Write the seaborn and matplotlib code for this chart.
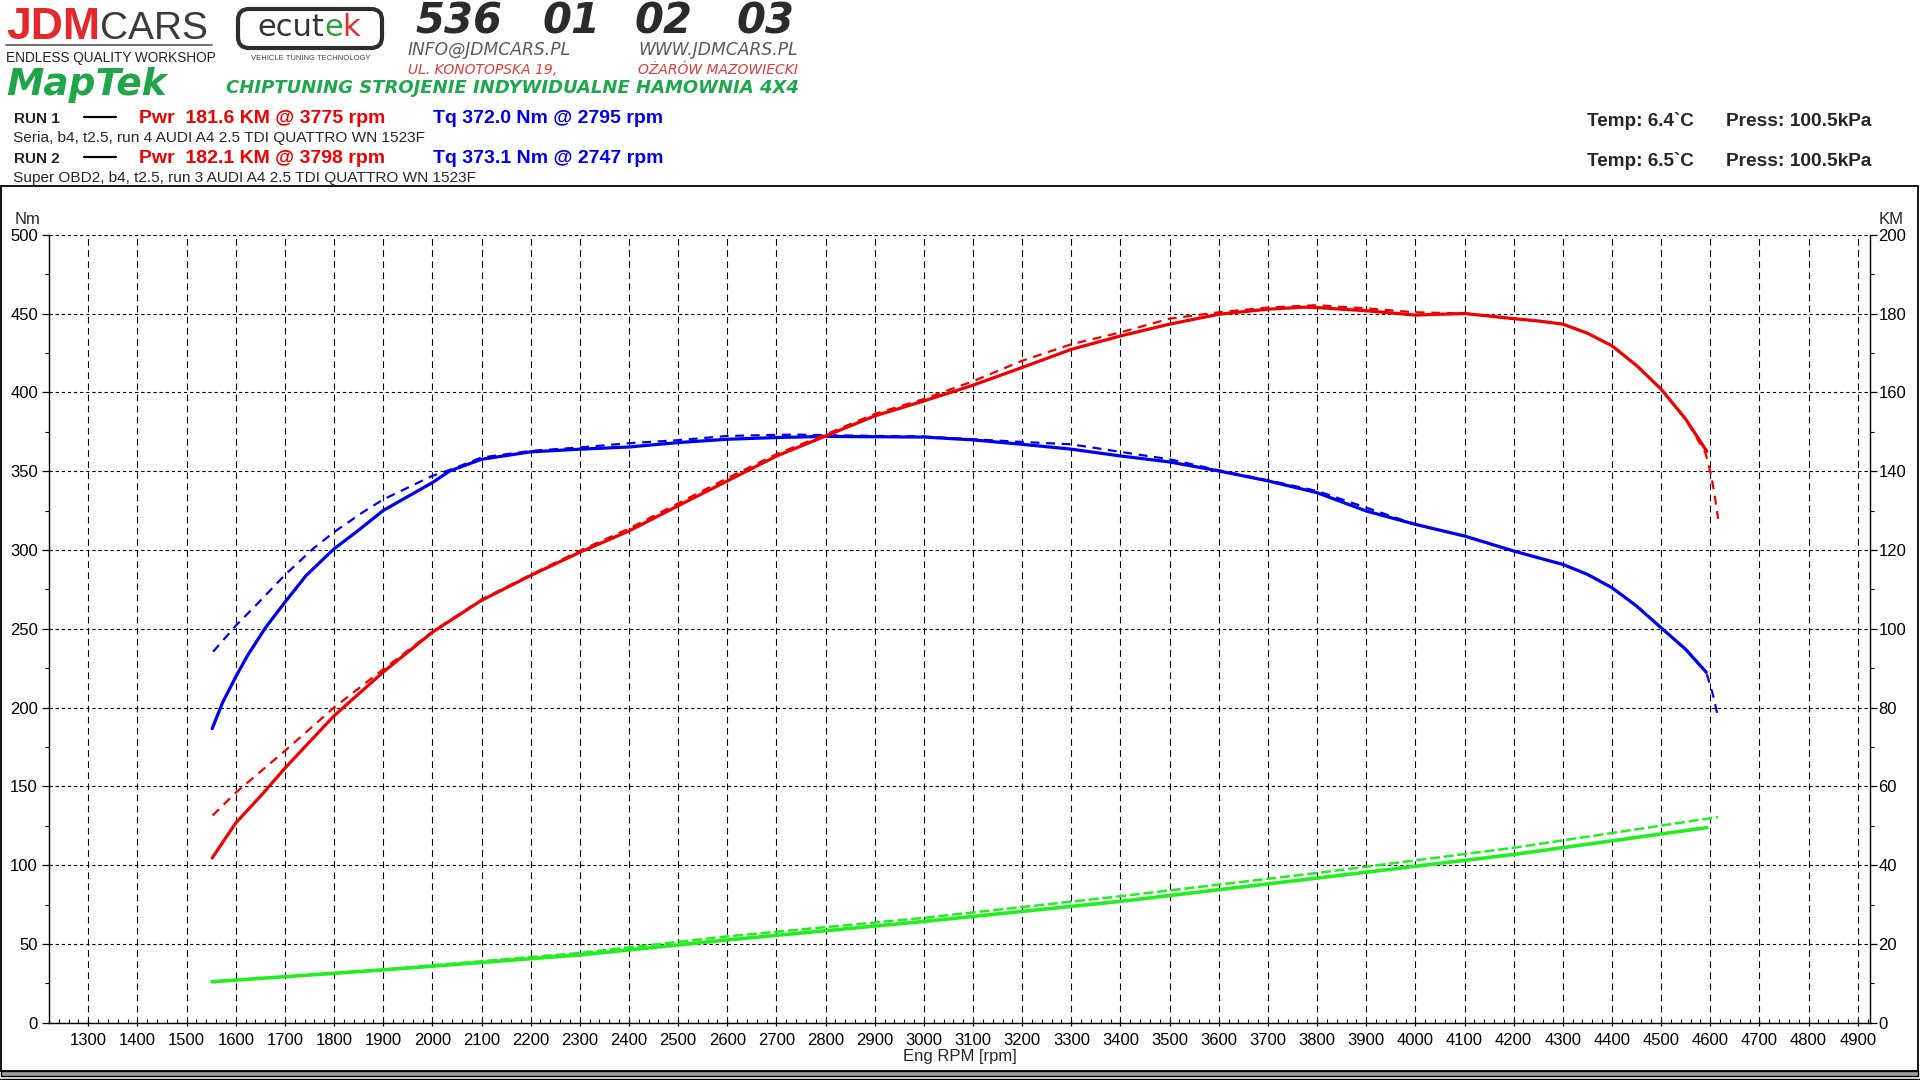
import matplotlib
matplotlib.use("Agg")
import matplotlib.pyplot as plt
from matplotlib.lines import Line2D
from matplotlib.patches import Rectangle, FancyBboxPatch
from matplotlib.ticker import MultipleLocator
from matplotlib.transforms import Affine2D
import seaborn as sns

# ---- dyno data ----
# torque [Nm], run 1 (solid) and run 2 (dashed)
tq1_rpm = [1552, 1573, 1600, 1624, 1661, 1700, 1743, 1800, 1845, 1900, 2000, 2035, 2100, 2200,
           2300, 2400, 2500, 2600, 2700, 2800, 2900, 3000, 3100, 3200, 3300, 3400, 3500, 3600,
           3700, 3800, 3900, 4000, 4100, 4200, 4250, 4300, 4350, 4400, 4450, 4500, 4550, 4592]
tq1_nm = [186.6, 203.0, 219.5, 233.0, 250.9, 266.8, 283.7, 300.7, 311.3, 325.0, 342.7, 350.0, 357.5, 362.2,
          363.9, 365.3, 368.1, 370.2, 371.3, 372.0, 371.8, 371.6, 369.8, 367.0, 363.9, 359.6, 355.8, 350.1,
          343.8, 336.3, 324.7, 316.2, 308.8, 299.3, 295.0, 290.8, 284.5, 276.0, 264.4, 250.6, 236.9, 222.3]

tq2_rpm = [1554, 1600, 1647, 1700, 1757, 1800, 1859, 1900, 2000, 2035, 2100, 2200, 2300, 2400, 2500,
           2600, 2700, 2747, 2800, 2900, 3000, 3100, 3200, 3300, 3400, 3500, 3600, 3700, 3800, 3900,
           4000, 4100, 4200, 4250, 4300, 4350, 4400, 4450, 4500, 4550, 4592, 4606, 4616]
tq2_nm = [235.4, 251.9, 266.8, 284.1, 300.7, 311.3, 324.0, 332.0, 347.0, 350.7, 358.6, 362.8, 365.0, 367.7, 369.6,
          372.3, 373.0, 373.1, 372.8, 372.3, 371.9, 370.2, 368.5, 367.0, 362.2, 357.5, 350.5, 344.2, 337.4, 326.8,
          316.2, 308.8, 299.3, 295.0, 290.8, 284.5, 276.0, 264.4, 250.6, 236.9, 222.3, 207.4, 193.6]

# power [KM]
pw1_rpm = [1552, 1600, 1654, 1700, 1800, 1900, 2000, 2100, 2200, 2300, 2400, 2500, 2600, 2700, 2800,
           2900, 3000, 3100, 3200, 3300, 3400, 3500, 3600, 3700, 3775, 3800, 3900, 4000, 4100, 4200,
           4250, 4300, 4350, 4400, 4450, 4500, 4550, 4593]
pw1_km = [41.8, 50.7, 58.0, 64.6, 77.9, 89.0, 99.1, 107.2, 113.5, 119.4, 124.8, 131.2, 137.5, 143.8, 148.9,
          154.0, 157.8, 161.8, 166.3, 170.9, 174.3, 177.3, 179.8, 181.1, 181.6, 181.5, 180.7, 179.6, 180.0, 178.7,
          178.1, 177.3, 175.0, 171.8, 166.8, 160.8, 153.2, 145.0]

pw2_rpm = [1553, 1600, 1700, 1800, 1900, 2000, 2100, 2200, 2300, 2400, 2500, 2600, 2700, 2800, 2900,
           3000, 3100, 3200, 3300, 3400, 3500, 3600, 3700, 3798, 3900, 4000, 4100, 4200, 4250, 4300,
           4350, 4400, 4450, 4500, 4550, 4590, 4602, 4609, 4616]
pw2_km = [52.6, 58.4, 69.0, 80.0, 89.7, 99.2, 107.4, 113.7, 119.8, 125.4, 131.8, 138.2, 144.3, 149.3, 154.5,
          158.3, 162.8, 168.0, 172.2, 175.2, 178.7, 180.3, 181.5, 182.1, 181.3, 180.3, 180.0, 178.7, 178.1, 177.3,
          175.0, 171.8, 166.8, 160.8, 153.2, 144.7, 138.9, 133.8, 127.9]

# loss power [KM]
ls1_rpm = [1552, 1900, 2300, 2600, 3000, 3400, 3800, 4200, 4593]
ls1_km = [10.4, 13.4, 17.2, 21.0, 25.7, 30.8, 36.7, 42.7, 49.5]
ls2_rpm = [1553, 1900, 2300, 2600, 3000, 3400, 3800, 4200, 4616]
ls2_km = [10.4, 13.5, 17.7, 21.9, 26.6, 32.1, 38.0, 44.4, 52.2]

run_names = ["RUN 1", "RUN 2"]
run_pwr = ["Pwr  181.6 KM @ 3775 rpm", "Pwr  182.1 KM @ 3798 rpm"]
run_tq = ["Tq 372.0 Nm @ 2795 rpm", "Tq 373.1 Nm @ 2747 rpm"]
run_desc = ["Seria, b4, t2.5, run 4 AUDI A4 2.5 TDI QUATTRO WN 1523F",
            "Super OBD2, b4, t2.5, run 3 AUDI A4 2.5 TDI QUATTRO WN 1523F"]
run_temp = ["Temp: 6.4`C", "Temp: 6.5`C"]
run_press = ["Press: 100.5kPa", "Press: 100.5kPa"]

BLUE, RED, GREEN = "#0000f0", "#f00000", "#22ee22"
W, H = 1920, 1080

sns.set_style("ticks", {"axes.edgecolor": "black", "xtick.color": "black", "ytick.color": "black"})
plt.rcParams["font.family"] = ["Liberation Sans", "DejaVu Sans"]
NARROW = ["Liberation Sans Narrow", "Liberation Sans"]

fig = plt.figure(figsize=(W / 100, H / 100), dpi=100)
fig.patch.set_facecolor("white")
PX = Affine2D().scale(1, -1).translate(0, H)   # top-left pixel coords
renderer = fig.canvas.get_renderer()


def put(x, y, s, **kw):
    return fig.text(x, y, s, transform=PX, **kw)


def line(xs, ys, **kw):
    fig.add_artist(Line2D(xs, ys, transform=PX, **kw))


def chain(x, y, parts, **kw):
    for s, extra in parts:
        t = put(x, y, s, **kw, **extra)
        x = t.get_window_extent(renderer).x1
    return x


# ---- plot area ----
ax = fig.add_axes([49 / W, 1 - 1022.7 / H, (1870 - 49) / W, (1022.7 - 234.7) / H])
ax2 = ax.twinx()

line_kw = dict(estimator=None, sort=False, legend=False)
sns.lineplot(x=tq2_rpm, y=tq2_nm, ax=ax, color=BLUE, lw=1.6, linestyle=(0, (4, 3)), **line_kw)
sns.lineplot(x=tq1_rpm, y=tq1_nm, ax=ax, color=BLUE, lw=2.3, **line_kw)
sns.lineplot(x=ls2_rpm, y=ls2_km, ax=ax2, color=GREEN, lw=1.8, linestyle=(0, (4, 1.5)), **line_kw)
sns.lineplot(x=ls1_rpm, y=ls1_km, ax=ax2, color=GREEN, lw=2.6, **line_kw)
sns.lineplot(x=pw2_rpm, y=pw2_km, ax=ax2, color=RED, lw=1.6, linestyle=(0, (4, 3)), **line_kw)
sns.lineplot(x=pw1_rpm, y=pw1_km, ax=ax2, color=RED, lw=2.3, **line_kw)

ax.set_xlim(1220, 4925)
ax.set_ylim(0, 500)
ax2.set_ylim(0, 200)
ax.set_xlabel("")
ax.set_ylabel("")
ax2.set_ylabel("")

ax.xaxis.set_major_locator(MultipleLocator(100))
ax.xaxis.set_minor_locator(MultipleLocator(20))
ax.yaxis.set_major_locator(MultipleLocator(50))
ax.yaxis.set_minor_locator(MultipleLocator(25))
ax2.yaxis.set_major_locator(MultipleLocator(20))
ax2.yaxis.set_minor_locator(MultipleLocator(10))
ax.set_xticks(range(1300, 5000, 100))

ax.xaxis.grid(True, which="major", color="black", lw=0.8, linestyle=(0, (6, 4)))
ax.yaxis.grid(True, which="major", color="black", lw=0.8, linestyle=(0, (3, 2.5)))
ax2.grid(False)

for s in ["top", "right"]:
    ax.spines[s].set_visible(False)
for s in ["top", "left", "bottom"]:
    ax2.spines[s].set_visible(False)
for sp in [ax.spines["left"], ax.spines["bottom"], ax2.spines["right"]]:
    sp.set_linewidth(1.0)
    sp.set_color("black")

ax.tick_params(axis="x", which="major", direction="inout", length=4.5, width=0.9, pad=5,
               labelsize=12, labelfontfamily=NARROW)
ax.tick_params(axis="x", which="minor", direction="in", length=2.7, width=0.8)
ax.tick_params(axis="y", which="major", direction="out", length=5, width=0.9, pad=3,
               labelsize=12, labelfontfamily=NARROW)
ax.tick_params(axis="y", which="minor", direction="out", length=3, width=0.8)
ax2.tick_params(axis="y", which="major", direction="out", length=5, width=0.9, pad=1,
                labelsize=12, labelfontfamily=NARROW)
ax2.tick_params(axis="y", which="minor", direction="out", length=3, width=0.8)

put(28, 220, "Nm", fontsize=12, family=NARROW, ha="center", va="center")
put(1891, 219, "KM", fontsize=12, family=NARROW, ha="center", va="center")
put(960, 1056, "Eng RPM [rpm]", fontsize=12, family=NARROW, ha="center", va="center")

# ---- frame ----
fig.add_artist(Rectangle((1, 186), 1917, 885, fill=False, ec="black", lw=1.3, transform=PX))
fig.add_artist(Rectangle((1, 1071), 1917, 5, fc="#a0a0a0", ec="black", lw=1.0, transform=PX))
line([0, 1919], [1078.5, 1078.5], color="black", lw=1.0)

# ---- header: workshop logos ----
chain(6, 39, [("JDM", dict(color="#e5282c", fontsize=32, fontweight="bold")),
              ("CARS", dict(color="#3a3a3a", fontsize=28, family=NARROW))], va="baseline")
line([6, 212], [45, 45], color="#555555", lw=1.2)
put(6, 62, "ENDLESS QUALITY WORKSHOP", fontsize=9.8, family=NARROW, color="#222222", va="baseline")

fig.add_artist(FancyBboxPatch((238, 9), 144, 39, boxstyle="round,pad=0,rounding_size=11",
                              fc="white", ec="#2e2e2e", lw=3.0, transform=PX))
chain(257, 36, [("ecut", dict(color="#333333")), ("e", dict(color="#2e9e3e")),
                ("k", dict(color="#e23030"))], fontsize=22, family="DejaVu Sans", va="baseline")
put(311, 59, "VEHICLE TUNING TECHNOLOGY", fontsize=5.5, color="#444444", ha="center", va="center")

for grp, gx in zip(["536", "01", "02", "03"], [459, 572, 663, 765]):
    put(gx, 34, grp, fontsize=30, family="DejaVu Sans", fontweight="bold", style="italic",
        color="#2b2b2b", ha="center", va="baseline")
put(408, 55, "INFO@JDMCARS.PL", fontsize=12.3, family="DejaVu Sans", style="italic",
    color="#5a5a5a", va="baseline")
put(798, 55, "WWW.JDMCARS.PL", fontsize=12.3, family="DejaVu Sans", style="italic",
    color="#5a5a5a", ha="right", va="baseline")
put(408, 74, "UL. KONOTOPSKA 19,", fontsize=10, family="DejaVu Sans", style="italic",
    color="#e03c3c", va="baseline")
put(798, 74, "OŻARÓW MAZOWIECKI", fontsize=10, family="DejaVu Sans", style="italic",
    color="#e03c3c", ha="right", va="baseline")
put(6, 95, "MapTek", fontsize=27, family="DejaVu Sans", fontweight="bold", style="italic",
    color="#1fa64a", va="baseline")
put(226, 93, "CHIPTUNING STROJENIE INDYWIDUALNE HAMOWNIA 4X4", fontsize=13.0, family="DejaVu Sans",
    fontweight="bold", style="italic", color="#1ea84e", va="baseline")

# ---- header: run summary ----
for i in range(2):
    base = 123 + 40 * i
    put(14, base, run_names[i], fontsize=11, fontweight="bold", va="baseline")
    line([84, 116], [base - 6, base - 6], color="black", lw=1.6)
    put(139, base, run_pwr[i], fontsize=14, fontweight="bold", color="#f00000", va="baseline")
    put(433, base, run_tq[i], fontsize=14, fontweight="bold", color="#0000f0", va="baseline")
    put(13, base + 19, run_desc[i], fontsize=11.1, va="baseline")
    put(1587, base + 3, run_temp[i], fontsize=13.6, fontweight="bold", va="baseline")
    put(1726, base + 3, run_press[i], fontsize=13.8, fontweight="bold", va="baseline")

fig.savefig("out.png", dpi=100)
